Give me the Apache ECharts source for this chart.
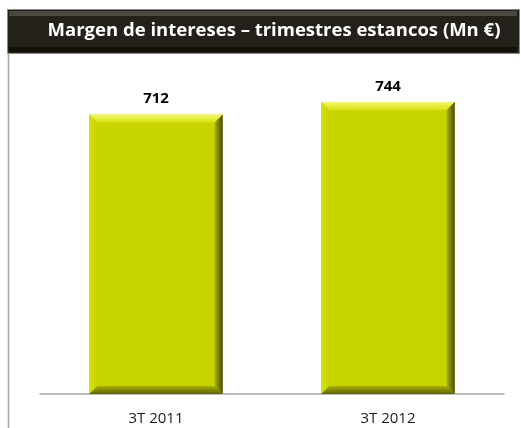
<!DOCTYPE html>
<html><head><meta charset="utf-8">
<script src="https://cdn.jsdelivr.net/npm/echarts@6/dist/echarts.min.js"></script>
<style>html,body{margin:0;padding:0;background:#fff}#c{width:521px;height:428px}</style>
</head><body><div id="c"></div>
<script>
var categories = ['3T 2011', '3T 2012'];
var values = [712, 744];
var titleText = 'Margen de intereses \u2013 trimestres estancos (Mn \u20ac)';

var chart = echarts.init(document.getElementById('c'), null, {renderer: 'canvas'});

function renderBar(params, api) {
  var idx = api.value(0);
  var v = api.value(1);
  var top = api.coord([idx, v]);
  var base = api.coord([idx, 0]);
  var bw = api.size([1, 0])[0] * 0.575;
  var x0 = top[0] - bw / 2, x1 = top[0] + bw / 2;
  var y0 = top[1], y1 = base[1];
  var b = 8;
  return {
    type: 'group',
    children: [
      {type: 'rect', shape: {x: x0, y: y0, width: bw, height: y1 - y0}, style: {fill: '#c6d400'}},
      {type: 'polygon', shape: {points: [[x0, y0], [x1, y0], [x1 - b, y0 + b], [x0 + b, y0 + b]]},
        style: {fill: new echarts.graphic.LinearGradient(0, 0, 0, 1, [{offset: 0, color: '#f4f86a'}, {offset: 1, color: '#d8e20c'}])}},
      {type: 'polygon', shape: {points: [[x0, y0], [x0 + b, y0 + b], [x0 + b, y1 - b], [x0, y1]]},
        style: {fill: new echarts.graphic.LinearGradient(0, 0, 1, 0, [{offset: 0, color: '#d4e012'}, {offset: 1, color: '#c8d500'}])}},
      {type: 'polygon', shape: {points: [[x1, y0], [x1, y1], [x1 - b, y1 - b], [x1 - b, y0 + b]]},
        style: {fill: new echarts.graphic.LinearGradient(0, 0, 1, 0, [{offset: 0, color: '#a8b200'}, {offset: 1, color: '#4a4a0a'}])}},
      {type: 'polygon', shape: {points: [[x0, y1], [x1, y1], [x1 - b, y1 - b], [x0 + b, y1 - b]]},
        style: {fill: new echarts.graphic.LinearGradient(0, 0, 0, 1, [{offset: 0, color: '#a6b000'}, {offset: 1, color: '#5e600a'}])}}
    ]
  };
}

chart.setOption({
  animation: false,
  backgroundColor: '#ffffff',
  graphic: [
    {type: 'rect', left: 7, top: 9, shape: {width: 512, height: 44},
      style: {fill: '#24201a', stroke: '#8a8a86', lineWidth: 1}},
    {type: 'rect', left: 9, top: 11, shape: {width: 508, height: 5},
      style: {fill: '#4a4840'}},
    {type: 'rect', left: 9, top: 47, shape: {width: 508, height: 5},
      style: {fill: '#121009'}},
    {type: 'line', shape: {x1: 8.5, y1: 53, x2: 8.5, y2: 428}, style: {stroke: '#a6a6a6', lineWidth: 1.5}},
    {type: 'text', x: 274, y: 31, style: {text: titleText, fill: '#ffffff', align: 'center', verticalAlign: 'middle',
      font: 'bold 18.5px "Open Sans", sans-serif'}}
  ],
  grid: {left: 40, right: 17, top: 80, bottom: 34},
  xAxis: {
    type: 'category', data: categories,
    axisLine: {lineStyle: {color: '#a6a6a6', width: 1.5}},
    axisTick: {show: false},
    axisLabel: {color: '#1a1a1a', fontSize: 15, margin: 17, fontFamily: '"Open Sans", sans-serif'}
  },
  yAxis: {type: 'value', min: 0, max: 800, show: false, splitLine: {show: false}},
  series: [{
    type: 'custom',
    renderItem: renderBar,
    data: values.map(function (v, i) { return [i, v]; }),
    encode: {x: 0, y: 1},
    clip: false,
    z: 2
  }, {
    type: 'bar',
    data: values,
    barWidth: '57.5%',
    itemStyle: {color: 'rgba(0,0,0,0)'},
    silent: true,
    z: 3,
    label: {show: true, position: 'top', distance: 8,
      color: '#000', fontWeight: 'bold', fontSize: 15, fontFamily: '"Open Sans", sans-serif'}
  }]
});
</script></body></html>
